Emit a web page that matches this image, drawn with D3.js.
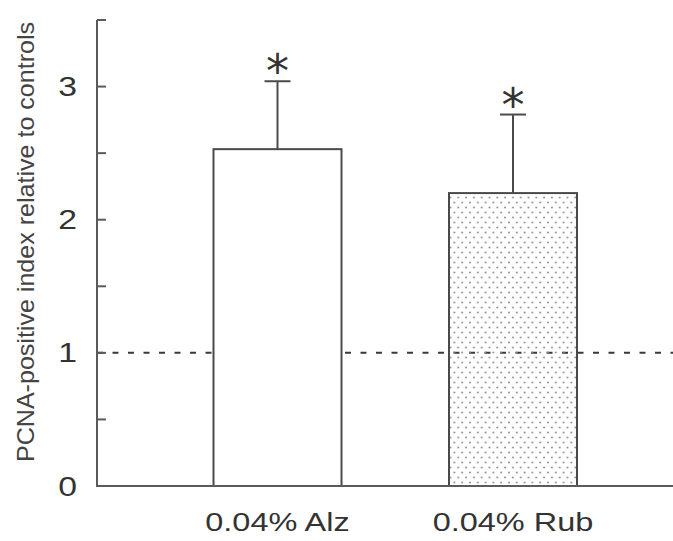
<!DOCTYPE html>
<html>
<head>
<meta charset="utf-8">
<script src="https://cdn.jsdelivr.net/npm/d3@7"></script>
<style>
  html, body { margin: 0; padding: 0; background: #fff; }
  svg { display: block; }
</style>
</head>
<body>
<svg id="chart" width="673" height="541"></svg>
<script>
const categories = ["0.04% Alz", "0.04% Rub"];
const means = [2.53, 2.20];
const errors = [0.51, 0.59];
const significance = ["*", "*"];
const yTicks = [0, 1, 2, 3];
const yMinorTicks = [0, 0.5, 1, 1.5, 2, 2.5, 3, 3.5];
const referenceLevel = 1;
const yTitle = "PCNA-positive index relative to controls";

const svg = d3.select("#chart");
const W = 673, H = 541;
const axisX = 97, baseY = 486, topY = 20;

const y = d3.scaleLinear().domain([0, 3.5]).range([baseY, topY]);
const x = d3.scaleBand().domain(categories).range([159.75, 630.75])
  .paddingInner(0.4565).paddingOuter(0.4565 / 2);

const ink = "#4a4a4a";
const textCol = "#333";
const font = "'Liberation Sans', Arial, sans-serif";

// dot pattern
const defs = svg.append("defs");
const pat = defs.append("pattern").attr("id", "dots")
  .attr("patternUnits", "userSpaceOnUse").attr("width", 7.8).attr("height", 10)
  .attr("x", 0).attr("y", 0);
pat.append("circle").attr("cx", 2).attr("cy", 2.5).attr("r", 0.95).attr("fill", "#8a8a8a");
pat.append("circle").attr("cx", 5.9).attr("cy", 7.5).attr("r", 0.95).attr("fill", "#8a8a8a");

// reference dashed line (behind bars)
svg.append("line")
  .attr("x1", axisX).attr("x2", W)
  .attr("y1", y(referenceLevel)).attr("y2", y(referenceLevel))
  .attr("stroke", "#3a3a3a").attr("stroke-width", 2)
  .attr("stroke-dasharray", "6,9.5");

// bars
const fills = ["#ffffff", "url(#dots)"];
svg.selectAll("rect.bar").data(categories).enter().append("rect")
  .attr("class", "bar")
  .attr("x", d => x(d))
  .attr("y", (d, i) => y(means[i]))
  .attr("width", x.bandwidth())
  .attr("height", (d, i) => y(0) - y(means[i]))
  .attr("fill", (d, i) => fills[i])
  .attr("stroke", ink).attr("stroke-width", 2);

// error bars
const capW = 26;
categories.forEach((c, i) => {
  const cx = x(c) + x.bandwidth() / 2;
  svg.append("line").attr("x1", cx).attr("x2", cx)
    .attr("y1", y(means[i])).attr("y2", y(means[i] + errors[i]))
    .attr("stroke", ink).attr("stroke-width", 2);
  svg.append("line").attr("x1", cx - capW / 2).attr("x2", cx + capW / 2)
    .attr("y1", y(means[i] + errors[i])).attr("y2", y(means[i] + errors[i]))
    .attr("stroke", ink).attr("stroke-width", 2);
  svg.append("text")
    .attr("x", cx).attr("y", y(means[i] + errors[i]) + 6)
    .attr("text-anchor", "middle")
    .attr("font-family", "'DejaVu Sans', sans-serif")
    .attr("font-size", 46)
    .attr("fill", "#333")
    .text(significance[i]);
});

// axes lines
svg.append("line").attr("x1", axisX).attr("x2", axisX)
  .attr("y1", y(3.5)).attr("y2", y(0))
  .attr("stroke", "#5a5a5a").attr("stroke-width", 2);
svg.append("line").attr("x1", axisX - 1).attr("x2", W)
  .attr("y1", y(0)).attr("y2", y(0))
  .attr("stroke", "#5a5a5a").attr("stroke-width", 2);

// ticks (inward)
svg.selectAll("line.tick").data(yMinorTicks).enter().append("line")
  .attr("class", "tick")
  .attr("x1", axisX).attr("x2", axisX + 9)
  .attr("y1", d => y(d)).attr("y2", d => y(d))
  .attr("stroke", "#5a5a5a").attr("stroke-width", 2);

// tick labels
svg.selectAll("text.ytl").data(yTicks).enter().append("text")
  .attr("class", "ytl")
  .attr("transform", d => `translate(77, ${y(d) + 9.5}) scale(1.25,1)`)
  .attr("text-anchor", "end")
  .attr("font-family", font).attr("font-size", 27)
  .attr("fill", textCol)
  .text(d => d);

// category labels
svg.selectAll("text.xtl").data(categories).enter().append("text")
  .attr("class", "xtl")
  .attr("transform", d => `translate(${x(d) + x.bandwidth() / 2}, 531) scale(1.25,1)`)
  .attr("text-anchor", "middle")
  .attr("font-family", font).attr("font-size", 26)
  .attr("fill", textCol)
  .text(d => d);

// y title
svg.append("text")
  .attr("transform", `translate(34, ${(22 + 462) / 2}) rotate(-90)`)
  .attr("text-anchor", "middle")
  .attr("font-family", font).attr("font-size", 24)
  .attr("textLength", 440).attr("lengthAdjust", "spacingAndGlyphs")
  .attr("fill", "#444")
  .text(yTitle);
</script>
</body>
</html>
